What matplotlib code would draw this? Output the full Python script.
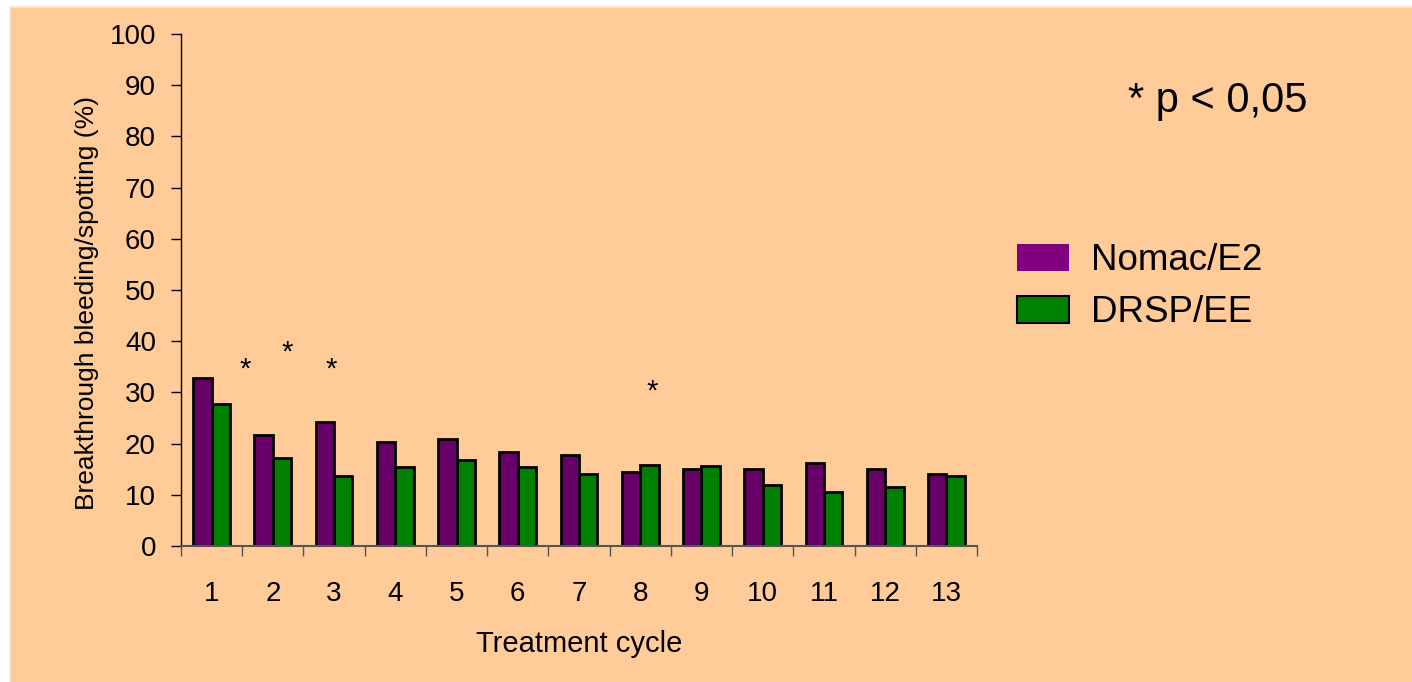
import matplotlib
matplotlib.use("Agg")
import matplotlib.pyplot as plt
from matplotlib.patches import Patch, Rectangle
import numpy as np

plt.rcParams['font.family'] = ['Liberation Sans', 'DejaVu Sans']

cycles = ["1", "2", "3", "4", "5", "6", "7", "8", "9", "10", "11", "12", "13"]
nomac_e2 = [32.8, 21.7, 24.3, 20.4, 20.9, 18.4, 17.8, 14.5, 15.0, 15.0, 16.2, 15.0, 14.1]
drsp_ee = [27.7, 17.1, 13.7, 15.4, 16.7, 15.4, 14.1, 15.8, 15.7, 11.9, 10.6, 11.5, 13.7]
series_names = ["Nomac/E2", "DRSP/EE"]

# significance markers: (x position in category units, height)
star_x = [0.55, 1.23, 1.95, 7.2]
star_y = [34.5, 37.7, 34.5, 30.1]

bg = "#FFCC99"
purple = "#660066"
purple_legend = "#800080"
green = "#008000"

fig = plt.figure(figsize=(14.12, 6.82), dpi=100)
fig.patch.set_facecolor(bg)
# white margin along the left and top edges, with a pale seam
left_w = 11 / 1412
top_h = 6 / 682
fig.patches.append(Rectangle((0, 0), left_w, 1, transform=fig.transFigure,
                             facecolor="white", edgecolor="none", zorder=-10))
fig.patches.append(Rectangle((0, 1 - top_h), 1, top_h, transform=fig.transFigure,
                             facecolor="white", edgecolor="none", zorder=-10))
fig.patches.append(Rectangle((left_w - 2 / 1412, 0), 2 / 1412, 1 - top_h, transform=fig.transFigure,
                             facecolor="#FFE4CC", edgecolor="none", zorder=-9))
fig.patches.append(Rectangle((left_w - 2 / 1412, 1 - top_h - 2 / 682), 1, 2 / 682,
                             transform=fig.transFigure,
                             facecolor="#FFE4CC", edgecolor="none", zorder=-9))

ax = fig.add_axes([181 / 1412, 1 - 546 / 682, (977 - 181) / 1412, (546 - 34) / 682])
ax.set_facecolor("none")

x = np.arange(len(cycles))
w = 0.3
ax.bar(x - w / 2, nomac_e2, width=w, color=purple, edgecolor="black", linewidth=2)
ax.bar(x + w / 2, drsp_ee, width=w, color=green, edgecolor="black", linewidth=2)

for sx, sy in zip(star_x, star_y):
    ax.text(sx, sy, "*", ha="center", va="center", fontsize=21)

ax.set_xlim(-0.5, len(cycles) - 0.5)
ax.set_ylim(0, 100)
ax.set_yticks(np.arange(0, 101, 10))
ax.set_xticks(x)
ax.set_xticklabels(cycles)
ax.set_xticks(np.arange(-0.5, len(cycles), 1), minor=True)
ax.tick_params(axis="x", which="major", length=0, labelsize=20, pad=25)
ax.tick_params(axis="x", which="minor", length=7, width=1, direction="out", color="#555555")
ax.tick_params(axis="y", length=7, width=1, direction="out", labelsize=20, pad=11)

for s in ["top", "right"]:
    ax.spines[s].set_visible(False)
ax.spines["left"].set_linewidth(1)
ax.spines["bottom"].set_linewidth(1.5)
ax.spines["bottom"].set_color("#555555")

ax.set_ylabel("Breakthrough bleeding/spotting (%)", fontsize=19)
ax.yaxis.set_label_coords(-0.103, 0.475)
ax.set_xlabel("Treatment cycle", fontsize=21)
ax.xaxis.set_label_coords(0.5, -0.164)

handles = [Patch(facecolor=purple_legend, edgecolor="none"),
           Patch(facecolor=green, edgecolor="black", linewidth=1.5)]
fig.legend(handles, series_names, loc="upper left", bbox_to_anchor=(988 / 1412, 1 - 214 / 682),
           frameon=False, fontsize=26.5, handlelength=1.4, handleheight=0.75,
           handletextpad=0.6, labelspacing=0.45, borderpad=0.3)

fig.text(1128 / 1412, 1 - 101 / 682, "* p < 0,05", fontsize=30, va="center", ha="left")

fig.savefig("out.png", dpi=100, facecolor=fig.get_facecolor())
